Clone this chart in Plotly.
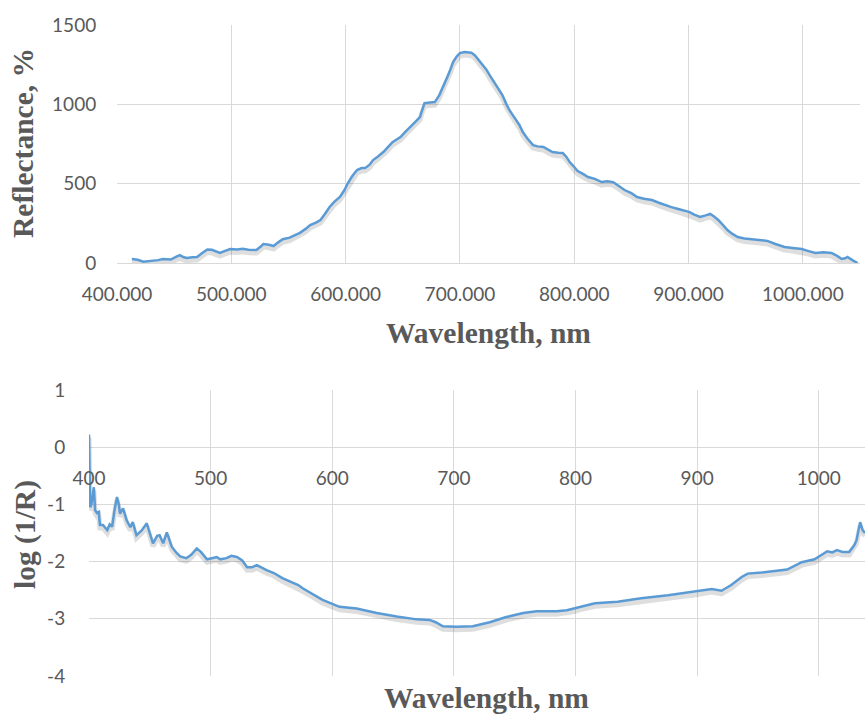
import plotly.graph_objects as go

# Reflectance spectrum (top panel)
refl_wavelength = [413, 418, 423, 430, 436, 440, 447, 452, 455, 458, 461, 466, 470, 474, 479, 483, 487, 490,
                   494, 499, 505, 510, 515, 520, 522, 526, 528, 533, 537, 541, 545, 551, 557, 560, 565, 569,
                   574, 578, 582, 586, 590, 595, 599, 602, 606, 610, 614, 617, 621, 624, 628, 633, 637, 641,
                   645, 648, 652, 656, 661, 665, 667, 669, 674, 678, 682, 686, 689, 692, 694, 697, 700, 704,
                   707, 710, 713, 716, 719, 723, 726, 729, 732, 737, 741, 744, 748, 752, 755, 759, 764, 768,
                   773, 777, 781, 786, 790, 793, 796, 800, 803, 808, 812, 818, 824, 829, 834, 839, 844, 850,
                   855, 861, 868, 874, 879, 885, 891, 896, 901, 905, 910, 915, 919, 922, 926, 930, 934, 938,
                   943, 949, 955, 962, 969, 976, 984, 991, 999, 1005, 1011, 1018, 1025, 1030, 1034, 1037,
                   1039, 1044, 1048]
refl_values = [25, 20, 8, 12, 18, 25, 22, 40, 50, 38, 32, 36, 38, 60, 85, 83, 70, 63,
               75, 88, 85, 90, 83, 85, 82, 105, 120, 115, 107, 130, 150, 160, 183, 190, 215, 239,
               255, 271, 310, 353, 385, 416, 460, 504, 550, 586, 598, 598, 620, 649, 670, 699, 730, 762,
               780, 794, 825, 857, 890, 920, 970, 1008, 1012, 1014, 1058, 1120, 1172, 1225, 1266, 1300, 1323, 1330,
               1329, 1325, 1310, 1285, 1260, 1220, 1184, 1150, 1121, 1060, 995, 955, 913, 870, 825, 785, 743, 735,
               731, 715, 699, 695, 693, 670, 636, 605, 580, 560, 542, 530, 510, 515, 510, 485, 460, 440,
               416, 405, 397, 380, 365, 352, 340, 330, 321, 305, 290, 300, 309, 295, 271, 240, 208, 185,
               164, 155, 151, 145, 139, 120, 101, 95, 88, 75, 63, 68, 63, 45, 25, 30,
               38, 15, 0]

# Absorbance spectrum log(1/R) (bottom panel)
abs_wavelength = [400, 400.5, 401, 402, 403, 404, 405, 406.5, 408, 409, 411.5, 413, 415, 417, 419, 421, 423,
                  424.5, 425.5, 428, 431, 434, 436, 439, 443.5, 447.5, 450, 452.6, 456, 458, 461, 464, 468,
                  472, 475, 480, 484, 488.6, 492, 497, 501, 505, 508, 513, 517, 521.6, 526, 530, 534, 538,
                  546, 552, 559, 565, 572, 576, 584, 592, 600, 606, 620, 636.6, 653, 669.5, 680, 685, 691,
                  702, 715.5, 729.5, 743, 757, 768, 784.5, 792.8, 799, 805, 816, 834.6, 854, 876, 898, 912,
                  920, 928, 936.6, 941.5, 953, 963.7, 974, 986, 996.5, 1007, 1011, 1015, 1019.5, 1025, 1029,
                  1031, 1034, 1036, 1038]
abs_values = [0.22, -0.2, -1.05, -1.0, -0.8, -0.7, -1.1, -1.15, -1.13, -1.36, -1.36, -1.40, -1.45, -1.35, -1.39,
              -1.10, -0.87, -1.0, -1.16, -1.07, -1.28, -1.40, -1.31, -1.54, -1.45, -1.33, -1.50, -1.68, -1.55,
              -1.54, -1.68, -1.49, -1.74, -1.85, -1.91, -1.94, -1.88, -1.77, -1.83, -1.96, -1.94, -1.92, -1.96,
              -1.94, -1.90, -1.92, -1.98, -2.10, -2.10, -2.06, -2.15, -2.20, -2.29, -2.35, -2.41, -2.47, -2.57,
              -2.67, -2.74, -2.79, -2.82, -2.90, -2.96, -3.01, -3.02, -3.06, -3.13, -3.14, -3.13, -3.06, -2.97,
              -2.90, -2.87, -2.87, -2.85, -2.82, -2.78, -2.73, -2.70, -2.64, -2.59, -2.53, -2.48, -2.51, -2.41,
              -2.27, -2.21, -2.19, -2.17, -2.14, -2.01, -1.96, -1.82, -1.84, -1.80, -1.83, -1.83, -1.72, -1.63,
              -1.31, -1.45, -1.50]

# Axis tick values and labels
wavelength_ticks = [400, 500, 600, 700, 800, 900, 1000]
abs_ticks = [-4, -3, -2, -1, 0, 1]
abs_tick_labels = ["-4", "-3", "-2", "-1", "0", "1"]

W, H = 865, 714
LINE = "#5b9bd5"
SHADOW = "rgba(0,0,0,0.13)"
GRID = "#d9d9d9"
TICK_FONT = dict(family="Lato, Carlito, Calibri, sans-serif", size=19, color="#595959")
TITLE_FONT = dict(family="Liberation Serif, Times New Roman, serif", size=29.5, color="#595959")

# panel geometry in pixels -> paper fractions
top_x = (117 / W, 860 / W)
top_y = (1 - 263 / H, 1 - 25 / H)
bot_x = (89 / W, 1.0)
bot_y = (1 - 676 / H, 1 - 390 / H)

refl_range = [0, 1500]
abs_range = [-4, 1]

fig = go.Figure()

# soft drop shadow under each spectrum
refl_px = (refl_range[1] - refl_range[0]) / (263 - 25)
abs_px = (abs_range[1] - abs_range[0]) / (676 - 390)
fig.add_trace(go.Scatter(x=refl_wavelength, y=[v - 3 * refl_px for v in refl_values], mode="lines",
                         line=dict(color=SHADOW, width=5), xaxis="x", yaxis="y",
                         hoverinfo="skip", showlegend=False))
fig.add_trace(go.Scatter(x=refl_wavelength, y=refl_values, mode="lines",
                         line=dict(color=LINE, width=2.5), xaxis="x", yaxis="y", showlegend=False))
fig.add_trace(go.Scatter(x=abs_wavelength, y=[v - 3 * abs_px for v in abs_values], mode="lines",
                         line=dict(color=SHADOW, width=5), xaxis="x2", yaxis="y2",
                         hoverinfo="skip", showlegend=False))
fig.add_trace(go.Scatter(x=abs_wavelength, y=abs_values, mode="lines",
                         line=dict(color=LINE, width=2.5), xaxis="x2", yaxis="y2", showlegend=False))

# bottom x axis crosses at log(1/R) = 0
zero_pos = bot_y[0] + (0 - abs_range[0]) / (abs_range[1] - abs_range[0]) * (bot_y[1] - bot_y[0])

common_x = dict(showgrid=True, gridcolor=GRID, gridwidth=1, zeroline=False, ticks="outside",
                tickcolor="rgba(0,0,0,0)", tickfont=TICK_FONT, automargin=False,
                tickmode="array", tickvals=wavelength_ticks)
common_y = dict(showgrid=True, gridcolor=GRID, gridwidth=1, ticks="outside",
                tickcolor="rgba(0,0,0,0)", tickfont=TICK_FONT, automargin=False)

fig.update_layout(
    width=W, height=H,
    margin=dict(l=0, r=0, t=0, b=0),
    paper_bgcolor="white", plot_bgcolor="white",
    xaxis=dict(domain=list(top_x), range=[400, 1050], anchor="y", tickformat=".3f",
               showline=True, linecolor=GRID, ticklen=14, **common_x),
    yaxis=dict(domain=list(top_y), range=refl_range, dtick=500, anchor="x",
               zeroline=False, ticklen=16, **common_y),
    xaxis2=dict(domain=list(bot_x), range=[400, 1038], anchor="free", position=zero_pos,
                showline=False, ticklen=14, **common_x),
    yaxis2=dict(domain=list(bot_y), range=abs_range, anchor="x2",
                tickmode="array", tickvals=abs_ticks, ticktext=abs_tick_labels,
                zeroline=True, zerolinecolor=GRID, zerolinewidth=1, ticklen=19, **common_y),
    annotations=[
        dict(text="<b>Reflectance, %</b>", x=23 / W, y=1 - 143 / H, xref="paper", yref="paper",
             textangle=-90, showarrow=False, font=TITLE_FONT, xanchor="center", yanchor="middle"),
        dict(text="<b>Wavelength, nm</b>", x=488 / W, y=1 - 333 / H, xref="paper", yref="paper",
             showarrow=False, font=TITLE_FONT, xanchor="center", yanchor="middle"),
        dict(text="<b>log (1/R)</b>", x=25 / W, y=1 - 535 / H, xref="paper", yref="paper",
             textangle=-90, showarrow=False, font=TITLE_FONT, xanchor="center", yanchor="middle"),
        dict(text="<b>Wavelength, nm</b>", x=486 / W, y=1 - 698 / H, xref="paper", yref="paper",
             showarrow=False, font=TITLE_FONT, xanchor="center", yanchor="middle"),
    ],
)

fig.write_html("out.html")
